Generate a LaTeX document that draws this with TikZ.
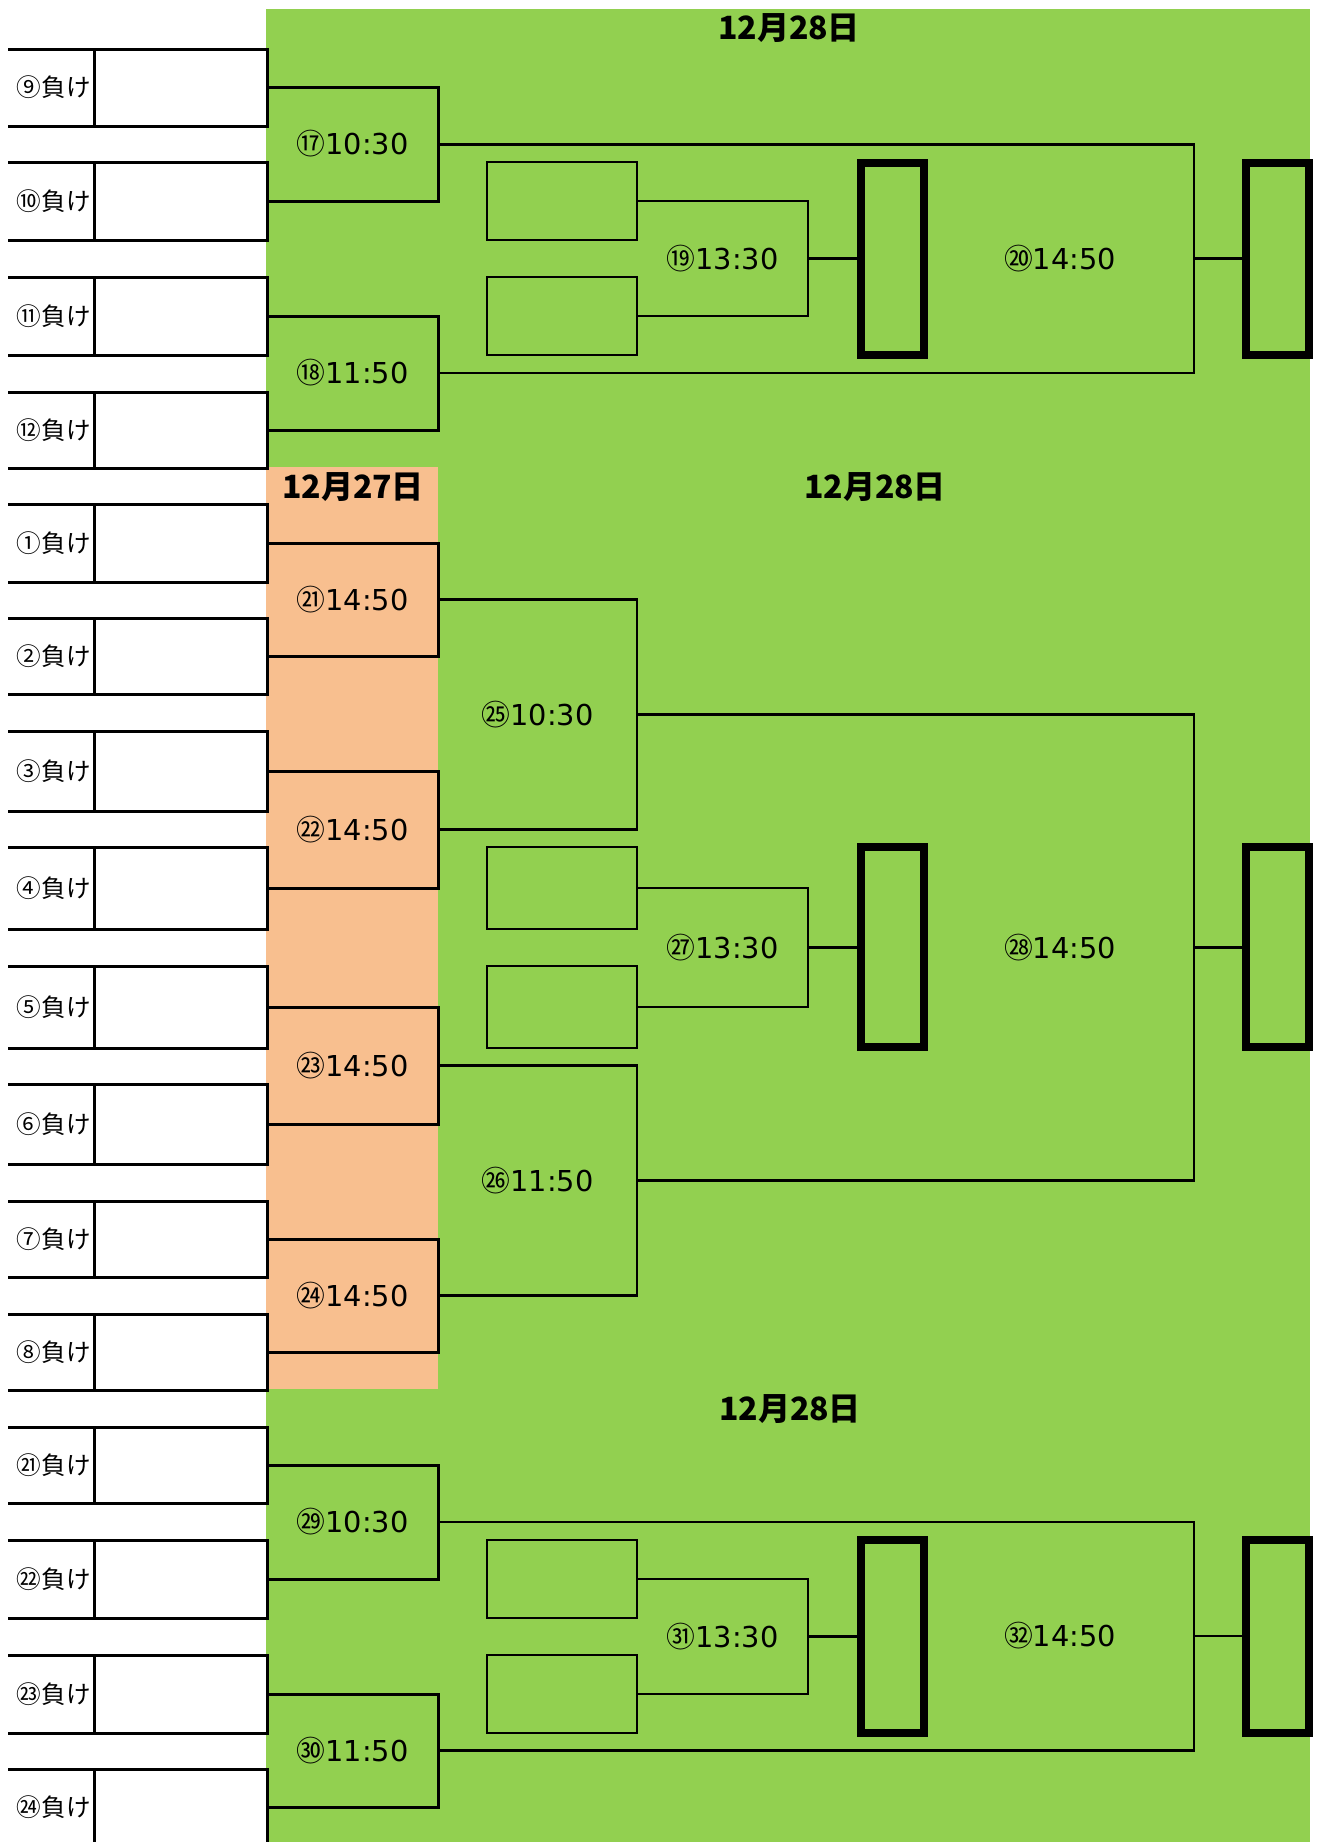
\documentclass[tikz,border=0pt]{standalone}
\usepackage{fontspec}
\setmainfont{DejaVu Sans}
\newfontfamily\jp{Noto Sans CJK JP}
\definecolor{grn}{HTML}{92D050}
\definecolor{peach}{HTML}{F8BF8F}
\tikzset{
  rl/.style={line width=1.5pt, black},
  ln/.style={line width=1.25pt, black},
  ibx/.style={draw, line width=1.25pt, minimum width=75pt, inner sep=0pt},
  tbx/.style={draw, line width=4pt, minimum width=31.5pt, inner sep=0pt},
  lb/.style={anchor=east, inner sep=0pt, font=\jp\fontsize{12.3pt}{14pt}\selectfont},
  tm/.style={inner sep=0pt, font=\fontsize{14.4pt}{16pt}\selectfont},
  ttl/.style={inner sep=0pt, font=\jp\bfseries\fontsize{16pt}{18pt}\selectfont},
}
\newcommand\tlab[2]{{\jp #1}#2}
\begin{document}
\begin{tikzpicture}[x=0.5pt,y=-0.5pt]
\useasboundingbox (0,0) rectangle (1319,1842);
\fill[white] (0,0) rectangle (1319,1842);
\fill[grn] (266,9) rectangle (1310,1842);
\fill[peach] (266,467) rectangle (438,1389);

% titles
\node[ttl] (d1) at (789,28) {12月28日};
\node[ttl] (d2) at (353,487) {12月27日};
\node[ttl] (d3) at (875,487) {12月28日};
\node[ttl] (d4) at (790,1409) {12月28日};

% left rows
\foreach \n/\t/\b/\m/\lab in {
  r9/49/126/87.5/⑨, r10/162/240/201/⑩, r11/277/355/316/⑪, r12/392/468/430/⑫,
  r1/504/582/543/①, r2/618/694/656/②, r3/731/811/771/③, r4/847/929/888/④,
  r5/966/1048/1007/⑤, r6/1084/1164/1124/⑥, r7/1201/1277/1239/⑦, r8/1314/1390/1352/⑧,
  r21/1427/1503/1465/㉑, r22/1540/1618/1579/㉒, r23/1655/1733/1694/㉓}{
  \draw[rl] (8,\t) -- (267,\t) -- (267,\b) -- (8,\b);
  \draw[rl] (94,\t) -- (94,\b);
  \coordinate (\n) at (267,\m);
  \node[lb] (\n-l) at (91,\m) {\lab 負け};
}
\draw[rl] (8,1769) -- (267,1769) -- (267,1860);
\draw[rl] (94,1769) -- (94,1860);
\coordinate (r24) at (267,1807);
\node[lb] (r24-l) at (91,1807) {㉔負け};

% match coordinates
\coordinate (m17) at (438,144.25);
\coordinate (m18) at (438,373);
\coordinate (m19) at (808,258.5);
\coordinate (m20) at (1194,258.6);
\coordinate (m21) at (438,599.5);
\coordinate (m22) at (438,829.5);
\coordinate (m23) at (438,1065.5);
\coordinate (m24) at (438,1295.5);
\coordinate (m25) at (637,714.5);
\coordinate (m26) at (637,1180.5);
\coordinate (m27) at (808,947.5);
\coordinate (m28) at (1194,947.5);
\coordinate (m29) at (438,1522);
\coordinate (m30) at (438,1750.5);
\coordinate (m31) at (808,1636.5);
\coordinate (m32) at (1194,1636);

% inner boxes
\node[ibx, minimum height=39pt] (i1) at (562,201) {};
\node[ibx, minimum height=39pt] (i2) at (562,316) {};
\node[ibx, minimum height=41pt] (i3) at (562,888) {};
\node[ibx, minimum height=41pt] (i4) at (562,1007) {};
\node[ibx, minimum height=39pt] (i5) at (562,1579) {};
\node[ibx, minimum height=39pt] (i6) at (562,1694) {};

% thick boxes
\node[tbx, minimum height=96pt] (t1) at (892.5,259) {};
\node[tbx, minimum height=96pt] (f1) at (1277.5,259) {};
\node[tbx, minimum height=100pt] (t2) at (892.5,947) {};
\node[tbx, minimum height=100pt] (f2) at (1277.5,947) {};
\node[tbx, minimum height=96.5pt] (t3) at (892.5,1636.5) {};
\node[tbx, minimum height=96.5pt] (f3) at (1277.5,1636.5) {};

% brackets
\draw[rl] (r9) -| (m17) |- (r10);
\draw[rl] (r11) -| (m18) |- (r12);
\draw[rl] (r1) -| (m21) |- (r2);
\draw[rl] (r3) -| (m22) |- (r4);
\draw[rl] (r5) -| (m23) |- (r6);
\draw[rl] (r7) -| (m24) |- (r8);
\draw[rl] (r21) -| (m29) |- (r22);
\draw[rl] (r23) -| (m30) |- (r24);

\draw[ln] (m21) -| (m25) |- (m22);
\draw[ln] (m23) -| (m26) |- (m24);

\draw[ln] (i1.east) -| (m19) |- (i2.east);
\draw[ln] (i3.east) -| (m27) |- (i4.east);
\draw[ln] (i5.east) -| (m31) |- (i6.east);
\draw[ln] (m19) -- (m19 -| t1.west);
\draw[ln] (m27) -- (m27 -| t2.west);
\draw[ln] (m31) -- (m31 -| t3.west);

\draw[ln] (m17) -| (m20) |- (m18);
\draw[ln] (m25) -| (m28) |- (m26);
\draw[ln] (m29) -| (m32) |- (m30);
\draw[ln] (m20) -- (m20 -| f1.west);
\draw[ln] (m28) -- (m28 -| f2.west);
\draw[ln] (m32) -- (m32 -| f3.west);

% time labels
\node[tm] (l17) at (352.5,144) {\tlab{⑰}{10:30}};
\node[tm] (l18) at (352.5,373) {\tlab{⑱}{11:50}};
\node[tm] (l19) at (722.5,258.5) {\tlab{⑲}{13:30}};
\node[tm] (l20) at (1060,258.5) {\tlab{⑳}{14:50}};
\node[tm] (l21) at (352.5,599.5) {\tlab{㉑}{14:50}};
\node[tm] (l22) at (352.5,829.5) {\tlab{㉒}{14:50}};
\node[tm] (l23) at (352.5,1065.5) {\tlab{㉓}{14:50}};
\node[tm] (l24) at (352.5,1295.5) {\tlab{㉔}{14:50}};
\node[tm] (l25) at (537.5,714.5) {\tlab{㉕}{10:30}};
\node[tm] (l26) at (537.5,1180.5) {\tlab{㉖}{11:50}};
\node[tm] (l27) at (722.5,947.5) {\tlab{㉗}{13:30}};
\node[tm] (l28) at (1060,947.5) {\tlab{㉘}{14:50}};
\node[tm] (l29) at (352.5,1522) {\tlab{㉙}{10:30}};
\node[tm] (l30) at (352.5,1750.5) {\tlab{㉚}{11:50}};
\node[tm] (l31) at (722.5,1636.5) {\tlab{㉛}{13:30}};
\node[tm] (l32) at (1060,1636) {\tlab{㉜}{14:50}};
\end{tikzpicture}
\end{document}
